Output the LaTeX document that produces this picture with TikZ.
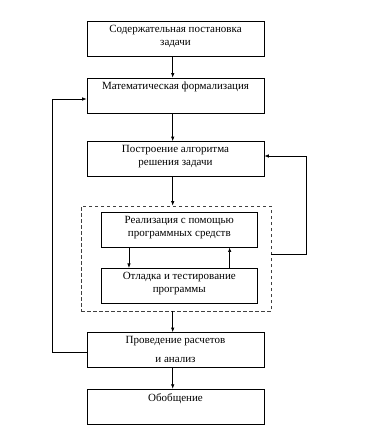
\documentclass[tikz,border=0pt]{standalone}
\usepackage{fontspec}
\setmainfont{Liberation Serif}
\usetikzlibrary{arrows.meta}
\begin{document}
\begin{tikzpicture}[x=1pt,y=-1pt,line width=0.7pt,
  font=\fontsize{11}{13}\selectfont,
  blk/.style={draw,minimum width=177,minimum height=35,inner sep=0},
  sub/.style={blk,minimum width=156},
  lbl/.style={anchor=north,inner sep=0,yshift=-4pt,align=center},
  arr/.style={-{Latex[length=4.5pt,width=3.5pt]}}]
\useasboundingbox (0,0) rectangle (368,440);
\node[blk,label={[lbl]north:Содержательная постановка\\задачи}] (stmt) at (175.5,38.5) {};
\node[blk,label={[lbl]north:Математическая формализация}] (form) at (175.5,95.5) {};
\node[blk,label={[lbl]north:Построение алгоритма\\решения задачи}] (algo) at (175.5,159) {};
\node[draw=black!75,dash pattern=on 3.5pt off 2.5pt,minimum width=190,minimum height=105,inner sep=0] (impl) at (176,258.5) {};
\node[sub,label={[lbl]north:Реализация с помощью\\программных средств}] (code) at (179.3,229.6) {};
\node[sub,label={[lbl]north:Отладка и тестирование\\программы}] (test) at (179.3,285.8) {};
\node[blk,label={[lbl]north:Проведение расчетов\\[6pt]и анализ}] (calc) at (175.5,350) {};
\node[blk,label={[lbl]north:Обобщение}] (gen) at (175.5,406.7) {};
% main line
\coordinate (ax) at (172.7,0);
\draw[arr] (ax |- stmt.south) -- (ax |- form.north);
\draw[arr] (ax |- form.south) -- (ax |- algo.north);
\draw[arr] (ax |- algo.south) -- (ax |- impl.north);
\draw[arr] (ax |- impl.south) -- (ax |- calc.north);
\draw[arr] (ax |- calc.south) -- (ax |- gen.north);
% inside the dashed block
\draw[arr] ([xshift=28pt]code.south west) -- ([xshift=28pt]test.north west);
\draw[arr] ([xshift=-28pt]test.north east) -- ([xshift=-28pt]code.south east);
% back loops
\coordinate (rt) at (306,254);
\draw[arr] (impl.east |- rt) -- (rt) |- ([yshift=3pt]algo.east);
\coordinate (lf) at (52.3,352.7);
\draw[arr] (calc.west |- lf) -- (lf) |- ([yshift=-3.5pt]form.west);
\end{tikzpicture}
\end{document}
